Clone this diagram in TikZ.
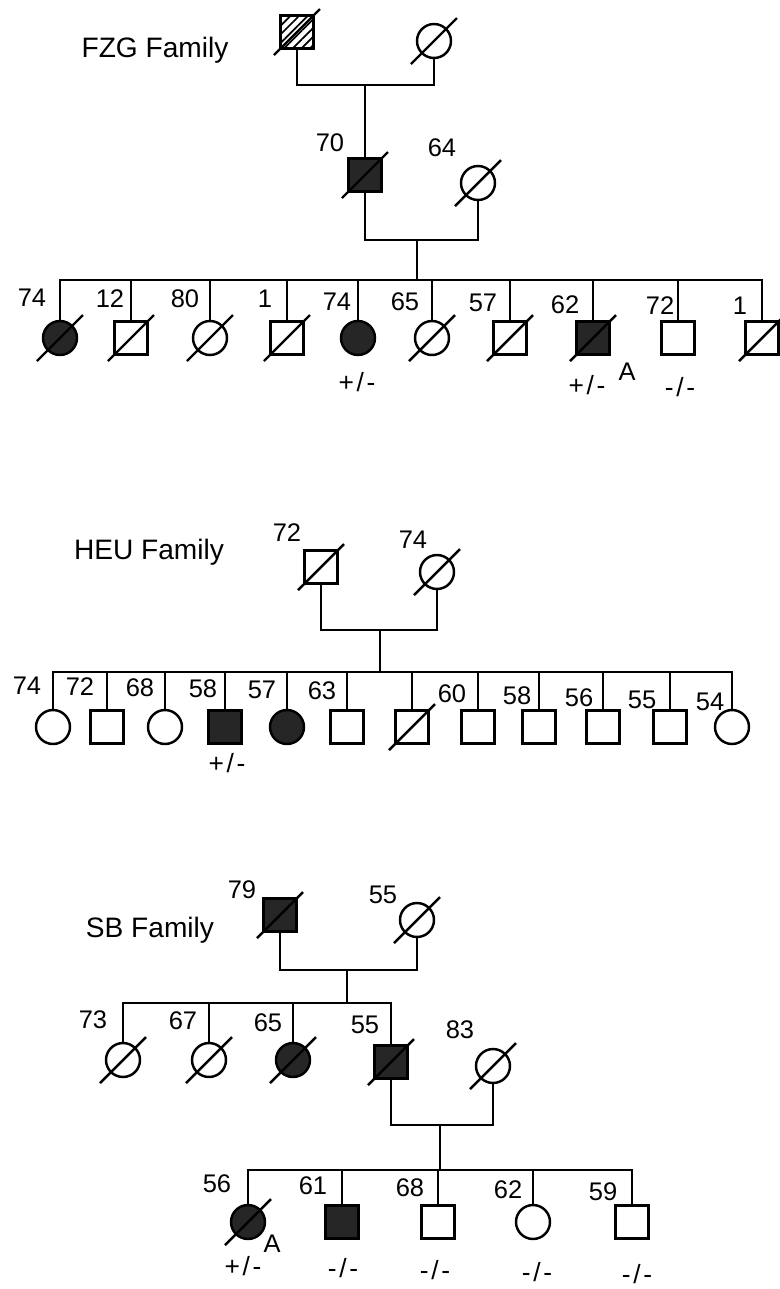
\documentclass[tikz,border=0pt]{standalone}
\usepackage{fontspec}
\setmainfont{Liberation Sans}
\usetikzlibrary{patterns.meta}

% slash through a deceased person
\newcommand{\deceased}[1]{\draw ([shift={(-23,23)}]#1.center) -- ([shift={(23,-23)}]#1.center);}
% genotype with a bit of air round the slash
\newcommand{\gt}[2]{#1\kern1.5pt/\kern1.5pt#2}

\begin{document}
\begin{tikzpicture}[x=0.02cm, y=-0.02cm, line width=1.4pt,
    male/.style={draw, rectangle, minimum size=0.66cm, inner sep=0pt},
    female/.style={draw, circle, minimum size=0.68cm, inner sep=0pt},
    aff/.style={fill=black!85},
    hatched/.style={pattern={Lines[angle=45, distance=3.5pt, line width=1pt]}},
    age/.style={font=\fontsize{14.5}{15}\selectfont, inner sep=0pt},
    geno/.style={font=\fontsize{15}{16}\selectfont, inner sep=0pt},
    fam/.style={font=\fontsize{16}{18}\selectfont, inner sep=0pt}]
  \useasboundingbox (0,0) rectangle (780,1289);

  % FZG family
  \node[fam] (fzg) at (155,50) {FZG Family};
  \node[male, hatched] (fgf) at (297,32) {};
  \node[female] (fgm) at (434,41) {};
  \deceased{fgf} \deceased{fgm}
  \coordinate (fm1) at (365,85);
  \draw (fgf.south) |- (fm1) -| (fgm.south);
  \node[male, aff] (f70) at (365,175) {}; \node[age] (a70) at (330,143) {70};
  \node[female] (f64) at (478,183) {}; \node[age] (a64) at (442,148) {64};
  \deceased{f70} \deceased{f64}
  \draw (fm1) -- (f70.north);
  \coordinate (fm2) at (417,240); \coordinate (fs) at (417,280);
  \draw (f70.south) |- (fm2) -| (f64.south); \draw (fm2) -- (fs);

  \node[female, aff] (fc1) at (60,338) {}; \node[age] (afc1) at (32,298) {74};
  \node[male] (fc2) at (131,338) {}; \node[age] (afc2) at (110,299) {12};
  \node[female] (fc3) at (210,338) {}; \node[age] (afc3) at (185,299) {80};
  \node[male] (fc4) at (287,338) {}; \node[age] (afc4) at (265,299) {1};
  \node[female, aff] (fc5) at (358,338) {}; \node[age] (afc5) at (337,302) {74};
  \node[female] (fc6) at (432,338) {}; \node[age] (afc6) at (405,302) {65};
  \node[male] (fc7) at (510,338) {}; \node[age] (afc7) at (483,303) {57};
  \node[male, aff] (fc8) at (593,338) {}; \node[age] (afc8) at (565,305) {62};
  \node[male] (fc9) at (678,338) {}; \node[age] (afc9) at (660,306) {72};
  \node[male] (fc10) at (762,338) {}; \node[age] (afc10) at (740,306) {1};
  \deceased{fc1} \deceased{fc2} \deceased{fc3} \deceased{fc4} \deceased{fc6}
  \deceased{fc7} \deceased{fc8} \deceased{fc10}
  \draw (fc1.north) |- (fs) (fc2.north) |- (fs) (fc3.north) |- (fs)
    (fc4.north) |- (fs) (fc5.north) |- (fs) (fc6.north) |- (fs)
    (fc7.north) |- (fs) (fc8.north) |- (fs) (fc9.north) |- (fs)
    (fc10.north) |- (fs);
  \node[geno] (gfc5) at (357,382) {\gt{+}{-}};
  \node[geno] (gfc8) at (587,385) {\gt{+}{-}}; \node[age] (xfc8) at (627,372) {A};
  \node[geno] (gfc9) at (680,387) {\gt{-}{-}};

  % HEU family
  \node[fam] (heu) at (149,552) {HEU Family};
  \node[male] (hgf) at (321,567) {}; \node[age] (ahgf) at (287,533) {72};
  \node[female] (hgm) at (437,572) {}; \node[age] (ahgm) at (413,540) {74};
  \deceased{hgf} \deceased{hgm}
  \coordinate (hm) at (380,630); \coordinate (hs) at (380,672);
  \draw (hgf.south) |- (hm) -| (hgm.south); \draw (hm) -- (hs);

  \node[female] (hc1) at (53,727) {}; \node[age] (ahc1) at (27,686) {74};
  \node[male] (hc2) at (107,727) {}; \node[age] (ahc2) at (80,687) {72};
  \node[female] (hc3) at (165,727) {}; \node[age] (ahc3) at (140,688) {68};
  \node[male, aff] (hc4) at (225,727) {}; \node[age] (ahc4) at (203,689) {58};
  \node[female, aff] (hc5) at (287,727) {}; \node[age] (ahc5) at (262,690) {57};
  \node[male] (hc6) at (347,727) {}; \node[age] (ahc6) at (322,691) {63};
  \node[male] (hc7) at (412,727) {};
  \node[male] (hc8) at (478,727) {}; \node[age] (ahc8) at (452,694) {60};
  \node[male] (hc9) at (539,727) {}; \node[age] (ahc9) at (517,696) {58};
  \node[male] (hc10) at (603,727) {}; \node[age] (ahc10) at (579,698) {56};
  \node[male] (hc11) at (670,727) {}; \node[age] (ahc11) at (642,700) {55};
  \node[female] (hc12) at (732,727) {}; \node[age] (ahc12) at (710,702) {54};
  \deceased{hc7}
  \draw (hc1.north) |- (hs) (hc2.north) |- (hs) (hc3.north) |- (hs)
    (hc4.north) |- (hs) (hc5.north) |- (hs) (hc6.north) |- (hs)
    (hc7.north) |- (hs) (hc8.north) |- (hs) (hc9.north) |- (hs)
    (hc10.north) |- (hs) (hc11.north) |- (hs) (hc12.north) |- (hs);
  \node[geno] (ghc4) at (227,763) {\gt{+}{-}};

  % SB family
  \node[fam] (sb) at (150,930) {SB Family};
  \node[male, aff] (sgf) at (280,915) {}; \node[age] (asgf) at (242,890) {79};
  \node[female] (sgm) at (417,920) {}; \node[age] (asgm) at (383,895) {55};
  \deceased{sgf} \deceased{sgm}
  \coordinate (sm1) at (347,970); \coordinate (ss1) at (347,1003);
  \draw (sgf.south) |- (sm1) -| (sgm.south); \draw (sm1) -- (ss1);

  \node[female] (sc1) at (123,1060) {}; \node[age] (asc1) at (93,1020) {73};
  \node[female] (sc2) at (209,1060) {}; \node[age] (asc2) at (183,1021) {67};
  \node[female, aff] (sc3) at (293,1060) {}; \node[age] (asc3) at (268,1023) {65};
  \node[male, aff] (s55) at (391,1062) {}; \node[age] (as55) at (365,1025) {55};
  \node[female] (s83) at (493,1066) {}; \node[age] (as83) at (460,1030) {83};
  \deceased{sc1} \deceased{sc2} \deceased{sc3} \deceased{s55} \deceased{s83}
  \draw (sc1.north) |- (ss1) (sc2.north) |- (ss1) (sc3.north) |- (ss1)
    (s55.north) |- (ss1);
  \coordinate (sm2) at (440,1125); \coordinate (ss2) at (440,1170);
  \draw (s55.south) |- (sm2) -| (s83.south); \draw (sm2) -- (ss2);

  \node[female, aff] (sd1) at (248,1222) {}; \node[age] (asd1) at (217,1184) {56};
  \node[male, aff] (sd2) at (342,1222) {}; \node[age] (asd2) at (313,1186) {61};
  \node[male] (sd3) at (438,1222) {}; \node[age] (asd3) at (410,1188) {68};
  \node[female] (sd4) at (533,1222) {}; \node[age] (asd4) at (508,1190) {62};
  \node[male] (sd5) at (632,1222) {}; \node[age] (asd5) at (603,1192) {59};
  \deceased{sd1}
  \draw (sd1.north) |- (ss2) (sd2.north) |- (ss2) (sd3.north) |- (ss2)
    (sd4.north) |- (ss2) (sd5.north) |- (ss2);
  \node[age] (xsd1) at (272,1244) {A};
  \node[geno] (gsd1) at (243,1266) {\gt{+}{-}};
  \node[geno] (gsd2) at (343,1268) {\gt{-}{-}};
  \node[geno] (gsd3) at (435,1270) {\gt{-}{-}};
  \node[geno] (gsd4) at (537,1272) {\gt{-}{-}};
  \node[geno] (gsd5) at (637,1274) {\gt{-}{-}};
\end{tikzpicture}
\end{document}
